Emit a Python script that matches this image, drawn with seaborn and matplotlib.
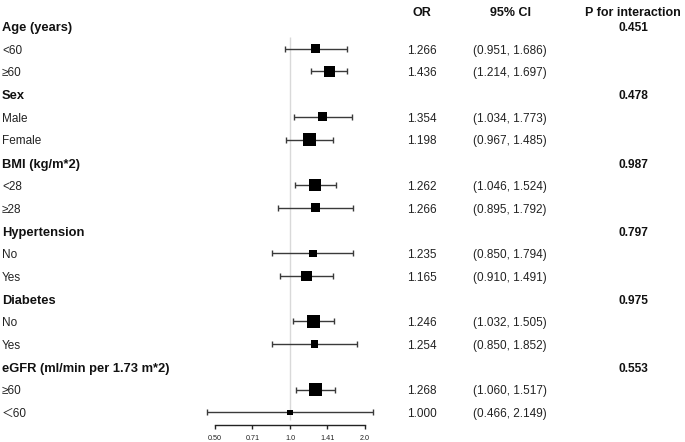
import numpy as np
import pandas as pd
import matplotlib
matplotlib.use("Agg")
import matplotlib.pyplot as plt
import matplotlib.transforms as mtransforms
from matplotlib.ticker import FixedLocator, NullLocator, FixedFormatter
import seaborn as sns

# ---- data ----
groups = ["Age (years)", "Sex", "BMI (kg/m*2)", "Hypertension", "Diabetes",
          "eGFR (ml/min per 1.73 m*2)"]
p_interaction = ["0.451", "0.478", "0.987", "0.797", "0.975", "0.553"]
subgroups = [["<60", "≥60"], ["Male", "Female"], ["<28", "≥28"],
             ["No", "Yes"], ["No", "Yes"], ["≥60", "＜60"]]
odds = [1.266, 1.436, 1.354, 1.198, 1.262, 1.266,
        1.235, 1.165, 1.246, 1.254, 1.268, 1.000]
lower = [0.951, 1.214, 1.034, 0.967, 1.046, 0.895,
         0.850, 0.910, 1.032, 0.850, 1.060, 0.466]
upper = [1.686, 1.697, 1.773, 1.485, 1.524, 1.792,
         1.794, 1.491, 1.505, 1.852, 1.517, 2.149]
# relative weight (box area) estimated from the square sizes
weight = [8.1, 12.1, 8.1, 15.6, 15.6, 8.1, 5.6, 11.6, 16.9, 5.6, 16.9, 3.0]
tick_vals = [0.5, 0.7071, 1.0, 1.4142, 2.0]
tick_labels = ["0.50", "0.71", "1.0", "1.41", "2.0"]

# ---- build the row table ----
rows = []
head_rows = []
k = 0
r = 0
for g, subs in zip(groups, subgroups):
    head_rows.append(r)
    r += 1
    for s in subs:
        rows.append({"label": s, "row": r, "OR": odds[k], "lo": lower[k],
                     "hi": upper[k], "weight": weight[k]})
        k += 1
        r += 1
df = pd.DataFrame(rows)

sns.set_theme(style="white")
plt.rcParams['font.family'] = ['Liberation Sans', 'Noto Sans CJK SC', 'DejaVu Sans']

W, H = 685, 442
fig = plt.figure(figsize=(W / 100, H / 100), dpi=100)
px = 75.0  # pixels per doubling
x_one = 290.0
ax = fig.add_axes([(x_one - 1.25 * px) / W, (H - 425) / H, 2.5 * px / W, 425 / H])
ax.set_xscale('log', base=2)

ax.vlines(1.0, 0.48, 17.33, color='#d9d9d9', linewidth=1, zorder=0)
ax.errorbar(df["OR"], df["row"],
            xerr=[df["OR"] - df["lo"], df["hi"] - df["OR"]],
            fmt='none', ecolor='#3a3a3a', elinewidth=1, capsize=2.2,
            capthick=1, zorder=1)
sns.scatterplot(data=df, x="OR", y="row", size="weight", sizes=(15.7, 87.6),
                marker="s", color="black", edgecolor="black", linewidth=0,
                legend=False, ax=ax, zorder=2)

ax.set_xlim(2 ** -1.25, 2 ** 1.25)
r0 = 26.0
step = 22.73
ax.set_ylim((425 - r0) / step, -r0 / step)
ax.set_xlabel("")
ax.set_ylabel("")
ax.set_yticks([])
ax.xaxis.set_major_locator(FixedLocator(tick_vals))
ax.xaxis.set_major_formatter(FixedFormatter(tick_labels))
ax.xaxis.set_minor_locator(NullLocator())
for side in ["top", "left", "right"]:
    ax.spines[side].set_visible(False)
ax.spines["bottom"].set_bounds(0.5, 2.0)
ax.spines["bottom"].set_color('#222222')
ax.spines["bottom"].set_linewidth(1)
ax.tick_params(axis='x', bottom=True, length=3, width=1, color='#222222',
               labelsize=5.2, pad=4, labelcolor='#222222')
ax.patch.set_alpha(0)

trans = mtransforms.blended_transform_factory(fig.transFigure, ax.transData)
hdr_y = (13 - r0) / step
col_or, col_ci, col_p = 422 / W, 510 / W, 633 / W
ax.text(col_or, hdr_y, "OR", transform=trans, ha='center', va='center',
        fontsize=9, fontweight='bold', color='#111111')
ax.text(col_ci, hdr_y, "95% CI", transform=trans, ha='center', va='center',
        fontsize=9, fontweight='bold', color='#111111')
ax.text(col_p, hdr_y, "P for interaction", transform=trans, ha='center',
        va='center', fontsize=9, fontweight='bold', color='#111111')

for g, p, hr in zip(groups, p_interaction, head_rows):
    ax.text(2 / W, hr + 0.1, g, transform=trans, ha='left', va='center',
            fontsize=9.3, fontweight='bold', color='#111111')
    ax.text(col_p, hr + 0.1, p, transform=trans, ha='center', va='center',
            fontsize=8.6, fontweight='bold', color='#111111')

for _, row in df.iterrows():
    y = row["row"] + 0.08
    ax.text(2 / W, y, row["label"], transform=trans, ha='left', va='center',
            fontsize=8.5, color='#222222')
    ax.text(col_or, y, f"{row['OR']:.3f}", transform=trans, ha='center',
            va='center', fontsize=8.5, color='#222222')
    ax.text(col_ci, y, f"({row['lo']:.3f}, {row['hi']:.3f})", transform=trans,
            ha='center', va='center', fontsize=8.5, color='#222222')

fig.savefig("out.png", dpi=100, facecolor="white")
